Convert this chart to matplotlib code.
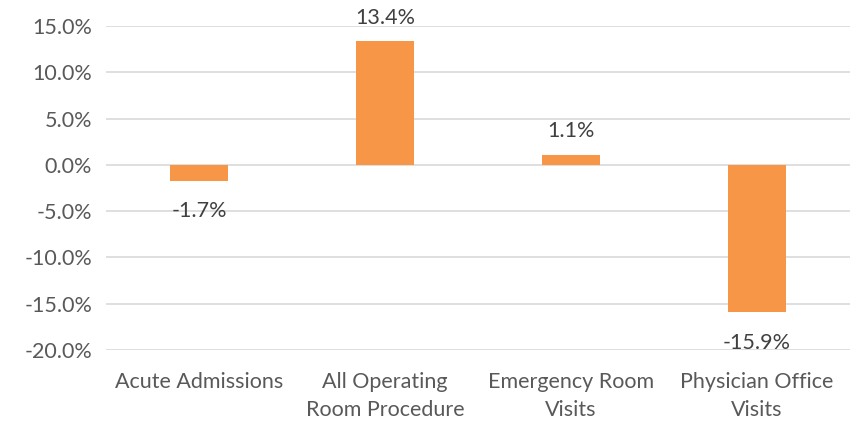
import numpy as np
import matplotlib.pyplot as plt

plt.rcParams['font.family'] = ['Lato', 'DejaVu Sans']

# Изменение показателей по категориям
categories = ['Acute Admissions', 'All Operating\nRoom Procedure',
              'Emergency Room\nVisits', 'Physician Office\nVisits']
changes = [-1.7, 13.4, 1.1, -15.9]
yticks = [-20, -15, -10, -5, 0, 5, 10, 15]

fig = plt.figure(figsize=(8.59, 4.22), dpi=100)
ax = fig.add_axes([0.1234, 0.1706, 0.8661, 0.7678])

x = np.arange(len(categories))
ax.bar(x, changes, width=0.31, color='#F79646', zorder=3)

# Подписи значений
fs = 15.5
for xi, v in zip(x, changes):
    if v >= 0:
        ax.annotate(f'{v:.1f}%', (xi, v), xytext=(0, 9.5), textcoords='offset points',
                    ha='center', va='bottom', fontsize=fs, color='#404040')
    else:
        ax.annotate(f'{v:.1f}%', (xi, v), xytext=(0, -15), textcoords='offset points',
                    ha='center', va='top', fontsize=fs, color='#404040')

ax.set_xlim(-0.5, len(categories) - 0.5)
ax.set_ylim(-20, 15)
ax.set_yticks(yticks)
ax.set_yticklabels([f'{t:.1f}%' for t in yticks])
ax.set_xticks(x)
ax.set_xticklabels(categories, linespacing=1.5, va='top')

ax.grid(axis='y', color='#D9D9D9', linewidth=1.2, zorder=0)
for s in ax.spines.values():
    s.set_visible(False)
ax.tick_params(axis='both', length=0, labelsize=fs, labelcolor='#595959')
ax.tick_params(axis='x', pad=16)
ax.tick_params(axis='y', pad=10)

fig.savefig('out.png', dpi=100)
